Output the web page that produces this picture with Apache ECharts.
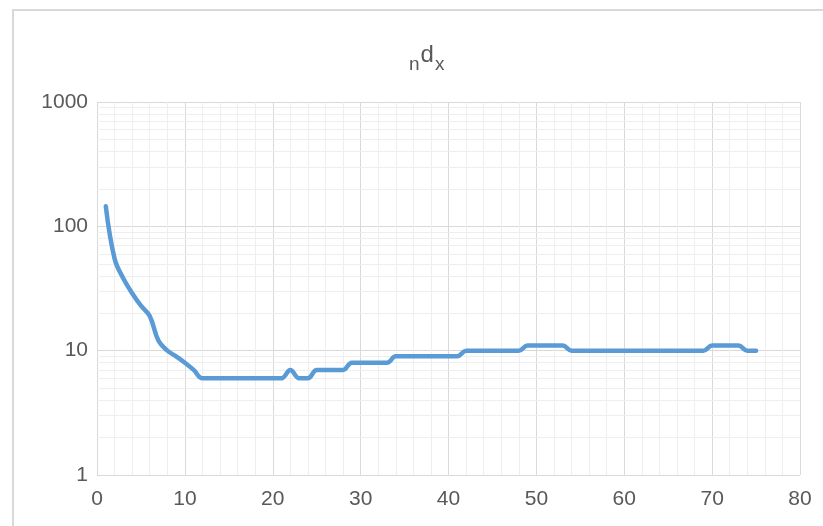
<!DOCTYPE html>
<html>
<head>
<meta charset="utf-8">
<script src="https://cdn.jsdelivr.net/npm/echarts@6/dist/echarts.min.js"></script>
<style>
  html, body { margin: 0; padding: 0; background: #ffffff; }
  #chart { width: 823px; height: 526px; }
</style>
</head>
<body>
<div id="chart"></div>
<script>
// ---- data ----
const ages = [1,2,3,4,5,6,7,8,9,10,11,12,13,14,15,16,17,18,19,20,21,22,23,24,25,26,27,28,29,30,
  31,32,33,34,35,36,37,38,39,40,41,42,43,44,45,46,47,48,49,50,51,52,53,54,55,56,57,58,59,60,
  61,62,63,64,65,66,67,68,69,70,71,72,73,74,75];
const ndx = [145,55,38,29,23,19,12,10,9,8,7,6,6,6,6,6,6,6,6,6,6,7,6,6,7,7,7,7,8,8,
  8,8,8,9,9,9,9,9,9,9,9,10,10,10,10,10,10,10,11,11,11,11,11,10,10,10,10,10,10,10,
  10,10,10,10,10,10,10,10,10,11,11,11,11,10,10];
const yMinorValues = [2,3,4,5,6,7,8,9,20,30,40,50,60,70,80,90,200,300,400,500,600,700,800,900];
const xTicks = [0,10,20,30,40,50,60,70,80];

const chart = echarts.init(document.getElementById('chart'), null, { renderer: 'canvas' });
const labelFont = { color: '#595959', fontSize: 21, fontFamily: 'Liberation Sans' };
const titleTok = { color: '#595959', fontFamily: 'Liberation Sans', fontWeight: 'normal', verticalAlign: 'bottom' };

chart.setOption({
  animation: false,
  backgroundColor: '#ffffff',
  graphic: [{
    type: 'rect',
    silent: true,
    shape: { x: 13, y: 10, width: 840, height: 540 },
    style: { fill: 'none', stroke: '#d9d9d9', lineWidth: 2 }
  }],
  title: {
    text: '{n|n}{d|d}{x|x}',
    left: 404,
    top: 38,
    textStyle: {
      fontWeight: 'normal',
      rich: {
        n: Object.assign({ fontSize: 19 }, titleTok),
        d: Object.assign({ fontSize: 24, padding: [0, 1, 7, 1] }, titleTok),
        x: Object.assign({ fontSize: 19 }, titleTok)
      }
    }
  },
  grid: { left: 97, right: 23, top: 102, bottom: 51, containLabel: false },
  xAxis: {
    type: 'value',
    min: xTicks[0],
    max: xTicks[xTicks.length - 1],
    interval: 10,
    axisLine: { show: false },
    axisTick: { show: false },
    axisLabel: Object.assign({ margin: 14 }, labelFont),
    splitLine: { show: true, lineStyle: { color: '#d9d9d9', width: 1 } },
    minorTick: { show: false, splitNumber: 5 },
    minorSplitLine: { show: true, lineStyle: { color: '#eeeeee', width: 1 } }
  },
  yAxis: {
    type: 'log',
    logBase: 10,
    min: 1,
    max: 1000,
    splitNumber: 3,
    axisLine: { show: false },
    axisTick: { show: false },
    axisLabel: Object.assign({ margin: 9, formatter: v => String(Math.round(v)) }, labelFont),
    splitLine: { show: true, lineStyle: { color: '#d9d9d9', width: 1 } }
  },
  series: [{
    type: 'line',
    data: ages.map((a, i) => [a, ndx[i]]),
    showSymbol: false,
    symbol: 'none',
    smooth: 0.4,
    z: 3,
    lineStyle: { color: '#5b9bd5', width: 4.5, cap: 'round', join: 'round' },
    markLine: {
      silent: true,
      z: 1,
      symbol: ['none', 'none'],
      label: { show: false },
      lineStyle: { color: '#eeeeee', width: 1, type: 'solid' },
      emphasis: { disabled: true },
      data: yMinorValues.map(v => ({ yAxis: v }))
    }
  }]
});
</script>
</body>
</html>
